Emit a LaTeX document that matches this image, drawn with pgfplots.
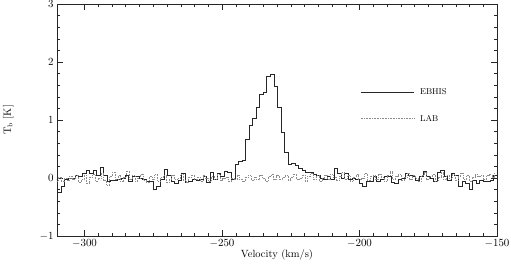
\documentclass[border=0pt]{standalone}
\usepackage{pgfplots}
\pgfplotsset{compat=1.18}
\usepackage{pgfplotstable}

\pgfplotstableread{
T
-0.03
-0.25
-0.15
-0.03
0.00
0.00
0.04
0.02
0.08
0.14
0.08
0.13
0.04
0.18
0.05
-0.06
-0.04
-0.04
-0.03
0.00
0.05
-0.06
0.02
0.03
0.00
-0.02
-0.06
-0.06
-0.20
-0.14
-0.03
0.15
0.05
-0.06
-0.09
-0.04
0.08
-0.08
-0.06
-0.02
-0.04
-0.03
0.03
-0.08
0.09
-0.03
0.08
0.02
0.11
0.10
-0.02
0.24
0.28
0.30
0.66
0.90
1.03
1.22
1.45
1.48
1.75
1.79
1.58
1.22
0.78
0.45
0.24
0.25
0.21
0.17
0.13
0.09
0.09
0.07
0.04
0.00
-0.03
0.02
-0.02
0.17
0.08
-0.01
0.08
-0.03
0.00
-0.03
-0.09
-0.15
-0.06
-0.05
0.02
-0.06
-0.03
0.02
0.03
-0.08
-0.10
-0.03
0.00
0.08
0.05
0.02
-0.04
0.03
0.11
0.02
-0.01
-0.06
0.09
0.13
0.02
-0.04
0.08
0.05
-0.15
-0.06
-0.10
-0.20
-0.04
-0.09
-0.04
-0.06
-0.06
-0.04
0.05
0.05
}\ebhis

\pgfplotstableread{
T
-0.05
0.02
-0.06
0.00
-0.04
0.03
-0.02
0.05
-0.08
-0.03
0.04
-0.10
0.02
0.06
-0.05
0.00
0.08
-0.04
-0.12
0.03
0.10
-0.02
0.05
-0.06
0.02
0.12
-0.03
0.04
-0.05
0.00
0.07
-0.04
-0.08
0.03
-0.02
0.06
-0.05
0.01
0.04
-0.07
-0.02
0.05
-0.03
0.00
0.06
-0.04
-0.08
0.02
0.05
-0.03
0.01
-0.06
0.04
0.00
-0.05
0.03
-0.02
0.06
-0.04
-0.01
0.02
-0.06
0.00
-0.03
0.05
-0.02
-0.05
0.02
0.04
-0.04
0.01
-0.03
0.05
0.00
-0.06
0.03
0.06
-0.02
0.04
-0.03
0.01
0.05
-0.04
0.02
0.07
-0.03
0.00
0.05
-0.05
0.03
0.08
-0.02
0.04
-0.06
0.00
0.05
-0.03
0.06
0.02
-0.04
0.03
0.10
-0.02
0.04
-0.05
0.02
0.06
-0.03
0.00
0.08
-0.04
0.03
0.05
-0.02
0.07
0.01
-0.05
0.04
0.12
-0.02
0.03
0.06
-0.04
0.02
0.08
-0.03
0.05
0.00
-0.06
0.04
0.09
-0.02
0.03
0.07
-0.05
0.02
0.10
-0.03
0.04
0.00
0.06
-0.04
0.03
0.08
-0.02
0.05
-0.06
0.02
0.07
0.03
0.05
-0.03
0.04
0.06
0.02
0.08
}\lab

\begin{document}
\begin{tikzpicture}
\path[use as bounding box] (-57bp,-28bp) rectangle (454bp,236bp);
\begin{axis}[
  scale only axis,
  width=440bp, height=232bp,
  xmin=-310, xmax=-150,
  ymin=-1, ymax=3,
  xtick={-300,-250,-200,-150},
  ytick={-1,0,1,2,3},
  minor x tick num=9,
  minor y tick num=4,
  tick align=inside,
  xtick pos=both, ytick pos=both,
  major tick length=6bp,
  minor tick length=3bp,
  axis line style={black!85, line width=0.6bp},
  every tick/.style={black!85, line width=0.5bp},
  tick label style={font=\fontsize{10.5}{12}\selectfont},
  xlabel={Velocity (km/s)},
  ylabel={T$_\mathrm{b}$ [K]},
  every axis x label/.style={at={(axis description cs:0.5,-0.082)}, anchor=center, font=\fontsize{10.5}{12}\selectfont},
  every axis y label/.style={at={(axis description cs:-0.111,0.5)}, anchor=center, rotate=90, font=\fontsize{10.5}{12}\selectfont},
  legend image code/.code={\draw[#1] (0bp,0bp) -- (53bp,0bp);},
  legend style={at={(rel axis cs:0.689,0.5625)}, anchor=west, draw=none, fill=none,
    inner sep=0pt, row sep=15bp, column sep=4bp, font=\fontsize{8.5}{10}\selectfont,
    cells={anchor=west}},
  clip=true,
]
\addplot[const plot, black!85, line width=0.75bp] table[x expr=\coordindex*1.29-311.1, y=T] {\ebhis};
\addlegendentry{EBHIS}
\addplot[const plot, black!45, line width=0.6bp, dash pattern=on 0.5bp off 1.1bp] table[x expr=\coordindex*1.03-310.5, y=T] {\lab};
\addlegendentry{LAB}
\end{axis}
\end{tikzpicture}
\end{document}
